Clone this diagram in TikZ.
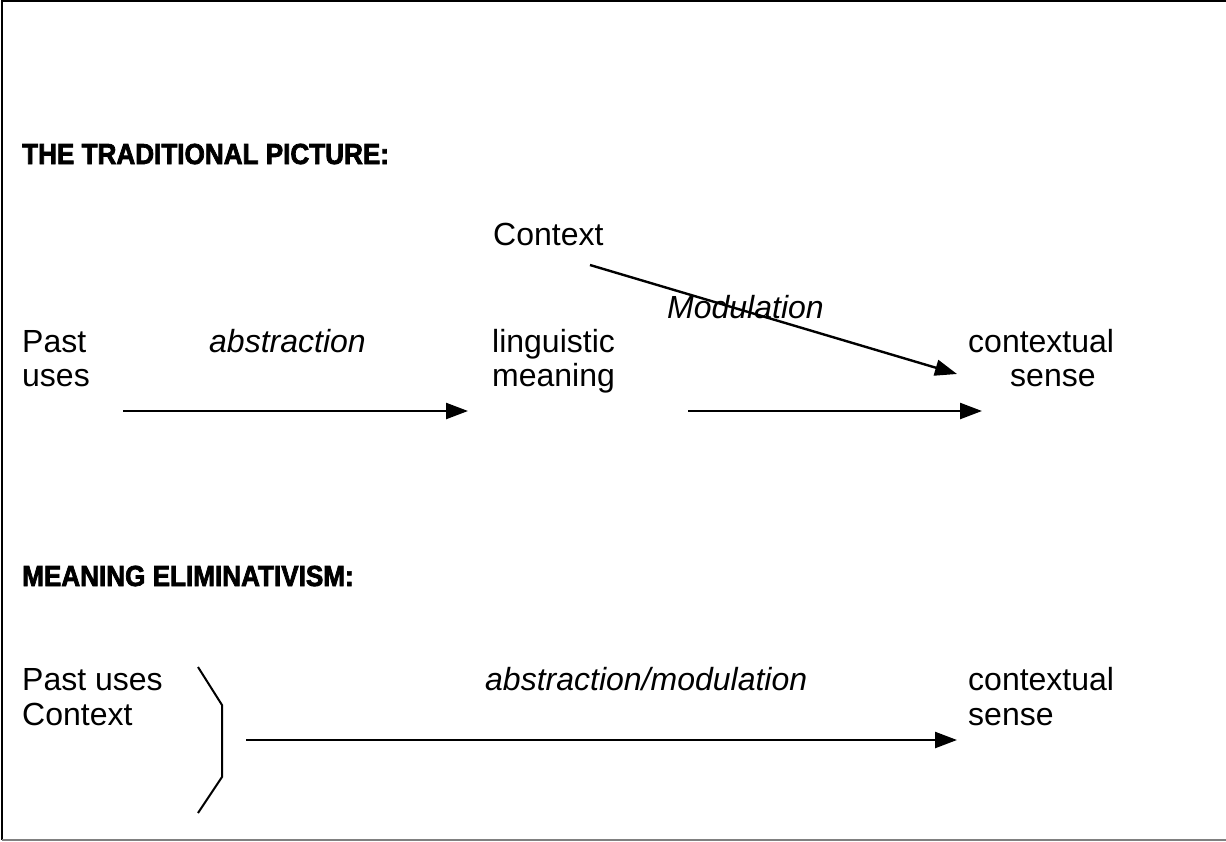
\documentclass[tikz,border=0pt]{standalone}
\usepackage{fontspec}
\setmainfont{Liberation Sans}
\newfontfamily\headfont[FakeBold=2.5,FakeStretch=0.9]{Liberation Sans Bold}
\usetikzlibrary{arrows.meta,positioning}
\tikzset{
  txt/.style={inner sep=0pt, anchor=base west, font=\fontsize{32}{36}\selectfont},
  lbl/.style={txt, font=\fontsize{32}{36}\selectfont\itshape},
  head/.style={inner sep=0pt, anchor=base west, font=\headfont\fontsize{29}{33}\selectfont},
  arr/.style={line width=2.4pt, -{Triangle[length=22pt,width=16pt]}}
}
\begin{document}
\begin{tikzpicture}[x=1pt,y=-1pt]
\useasboundingbox (0,0) rectangle (1226,841);
\draw[line width=2.5pt] (1226,1) -- (2,1) -- (2,840);
\draw[line width=2pt, gray] (2,840) -- (1226,840);

\node[head] (H1) at (22,164) {THE TRADITIONAL PICTURE:};
\node[txt] (K) at (493,245) {Context};
\node[lbl] (M) at (667,318) {Modulation};
\node[txt] (P) at (22,352) {Past};
\node[txt] (P2) at (22,386) {uses};
\node[lbl] (A) at (209,352) {abstraction};
\node[txt] (L) at (492,352) {linguistic};
\node[txt] (L2) at (492,386) {meaning};
\node[txt] (S) at (968,352) {contextual};
\node[txt] (S2) at (1010,386) {sense};

\coordinate (a1) at (123,411);
\coordinate (b1) at (468,411);
\coordinate (a2) at (688,411);
\coordinate (b2) at (982,411);
\coordinate (a3) at (590,265);
\coordinate (b3) at (957,374);
\draw[arr] (a1) -- (b1);
\draw[arr] (a2) -- (b2);
\draw[arr] (a3) -- (b3);

\node[head] (H2) at (22,586) {MEANING ELIMINATIVISM:};
\node[txt] (Q) at (22,690) {Past uses};
\node[txt] (Q2) at (22,725) {Context};
\node[lbl] (B) at (485,690) {abstraction/modulation};
\node[txt] (T) at (968,690) {contextual};
\node[txt] (T2) at (968,725) {sense};

\coordinate (c1) at (198,667);
\coordinate (c2) at (222,705);
\coordinate (c3) at (222,777);
\coordinate (c4) at (198,813);
\draw[line width=2pt] (c1) -- (c2) -- (c3) -- (c4);

\coordinate (a4) at (246,740);
\coordinate (b4) at (957,740);
\draw[arr] (a4) -- (b4);
\end{tikzpicture}
\end{document}
